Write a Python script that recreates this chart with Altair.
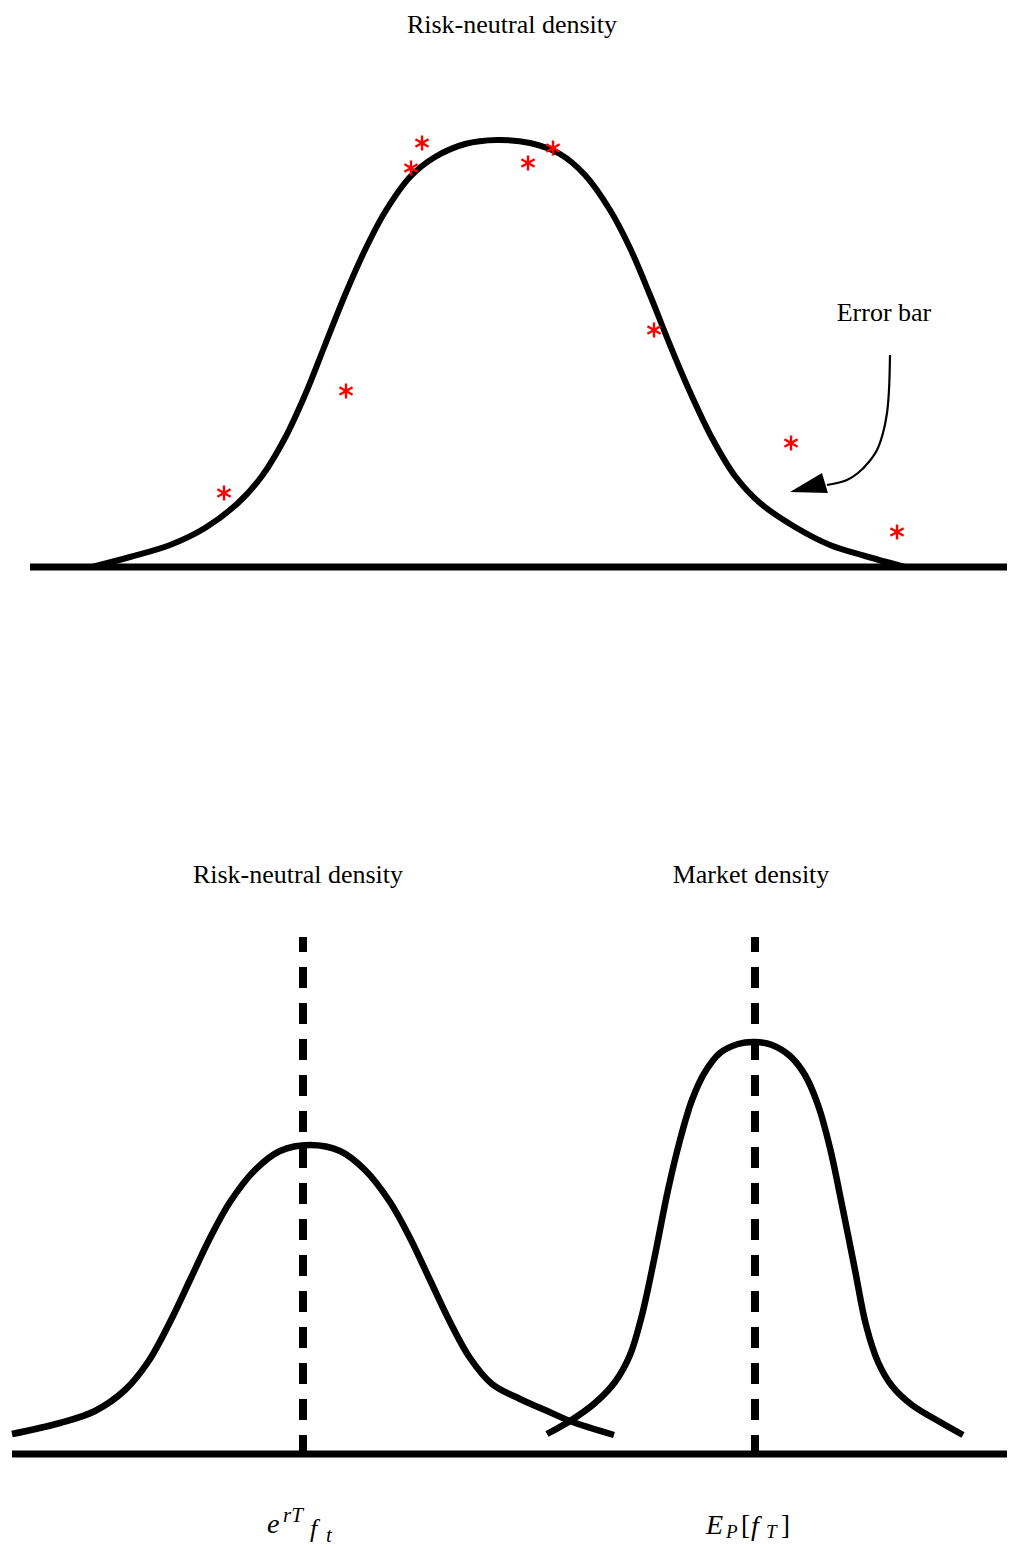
import altair as alt
import pandas as pd

# ---------------- data (schematic units: x to the right, y downward) -------------
top_curve_x = [92, 130, 170, 205, 238, 262, 285, 305, 325, 345, 365, 385, 410, 435, 465, 497,
               530, 560, 585, 610, 630, 650, 670, 690, 712, 735, 760, 795, 830, 865, 905]
top_curve_y = [567, 557, 545, 528, 503, 476, 438, 395, 345, 295, 250, 212, 177, 157, 144, 140,
               143, 154, 175, 210, 248, 295, 345, 392, 438, 476, 503, 527, 545, 556, 567]

obs_x = [224, 346, 411, 422, 528, 553, 654, 791, 897]
obs_y = [493, 391, 168, 143, 163, 148, 330, 443, 532]

arrow_x = [890, 889, 887, 883, 877, 868, 858, 847, 827]
arrow_y = [355, 390, 413, 433, 450, 463, 473, 480, 485]
arrow_tip_x = [813]
arrow_tip_y = [486]

rn_x = [12, 60, 95, 125, 148, 170, 190, 210, 230, 255, 280, 310, 340, 365, 390, 410, 430,
        450, 470, 492, 520, 545, 570, 614]
rn_y = [1434, 1423, 1411, 1390, 1362, 1322, 1280, 1238, 1202, 1170, 1151, 1145, 1151, 1170,
        1202, 1238, 1280, 1322, 1358, 1384, 1399, 1410, 1421, 1435]

mk_x = [547, 570, 595, 615, 630, 642, 655, 668, 680, 692, 705, 720, 738, 755, 772, 790, 805,
        818, 830, 842, 855, 866, 878, 892, 912, 940, 963]
mk_y = [1434, 1421, 1403, 1382, 1355, 1315, 1255, 1190, 1140, 1100, 1072, 1053, 1044, 1042,
        1045, 1056, 1075, 1105, 1148, 1205, 1270, 1325, 1362, 1386, 1405, 1422, 1435]

base_x1 = [30, 12]
base_x2 = [1008, 1015]
base_y = [567, 1454]

mean_x = [303, 755]
mean_y1 = [1456, 1456]
mean_y2 = [937, 937]

title_text = ["Risk-neutral density", "Error bar", "Risk-neutral density", "Market density"]
title_x = [512, 884, 298, 751]
title_y = [33, 321, 883, 883]

math_text = ["e", "rT", "f", "t", "E", "P", "f", "T"]
math_x = [267, 283, 310, 326, 706, 726, 751, 766]
math_y = [1533, 1522, 1537, 1542, 1534, 1538, 1535, 1538]
math_size = [28, 21, 26, 21, 28, 19, 28, 19]

bracket_text = ["[", "]"]
bracket_x = [741, 781]
bracket_y = [1534, 1534]

# ---------------- scales ----------------
W, H = 999, 1539
xs = alt.Scale(domain=[8, 8 + W], nice=False, zero=False)
ys = alt.Scale(domain=[8 + H, 8], nice=False, zero=False)
X = lambda f: alt.X(f, scale=xs, axis=None)
Y = lambda f: alt.Y(f, scale=ys, axis=None)

curves = pd.DataFrame(
    [{"x": a, "y": b, "id": "top", "i": i} for i, (a, b) in enumerate(zip(top_curve_x, top_curve_y))]
)
curves2 = pd.DataFrame(
    [{"x": a, "y": b, "id": "rn", "i": i} for i, (a, b) in enumerate(zip(rn_x, rn_y))]
    + [{"x": a, "y": b, "id": "mk", "i": i} for i, (a, b) in enumerate(zip(mk_x, mk_y))]
)
arrow = pd.DataFrame({"x": arrow_x, "y": arrow_y, "i": list(range(len(arrow_x)))})
tip = pd.DataFrame({"x": arrow_tip_x, "y": arrow_tip_y})
obs = pd.DataFrame({"x": obs_x, "y": obs_y})
bases = pd.DataFrame({"x": base_x1, "x2": base_x2, "y": base_y})
means = pd.DataFrame({"x": mean_x, "y": mean_y1, "y2": mean_y2})
titles = pd.DataFrame({"x": title_x, "y": title_y, "t": title_text})
maths = pd.DataFrame({"x": math_x, "y": math_y, "t": math_text, "s": math_size})
brackets = pd.DataFrame({"x": bracket_x, "y": bracket_y, "t": bracket_text})

FONT = "Liberation Serif"

base_layer = alt.Chart(bases).mark_rule(color="black", strokeWidth=7).encode(
    x=X("x:Q"), x2="x2:Q", y=Y("y:Q"))

curve_layer = alt.Chart(curves).mark_line(color="black", strokeWidth=6, interpolate="catmull-rom").encode(
    x=X("x:Q"), y=Y("y:Q"), detail="id:N", order="i:Q")

curve2_layer = alt.Chart(curves2).mark_line(color="black", strokeWidth=6.5, interpolate="catmull-rom").encode(
    x=X("x:Q"), y=Y("y:Q"), detail="id:N", order="i:Q")

mean_layer = alt.Chart(means).mark_rule(color="black", strokeWidth=8, strokeDash=[21, 15]).encode(
    x=X("x:Q"), y=Y("y:Q"), y2="y2:Q")

arrow_layer = alt.Chart(arrow).mark_line(color="black", strokeWidth=2.2, interpolate="catmull-rom").encode(
    x=X("x:Q"), y=Y("y:Q"), order="i:Q")

tip_layer = alt.Chart(tip).mark_point(
    shape="M-1,0.26L0.39,-0.57L0.65,0.3Z", filled=True, color="black", opacity=1, size=2116
).encode(x=X("x:Q"), y=Y("y:Q"))

star_layer = alt.Chart(obs).mark_point(
    shape="M0,-1L0,1M-0.87,-0.5L0.87,0.5M-0.87,0.5L0.87,-0.5",
    filled=False, color="red", strokeWidth=2.4, opacity=1, size=230
).encode(x=X("x:Q"), y=Y("y:Q"))

title_layer = alt.Chart(titles).mark_text(
    font=FONT, fontSize=26, baseline="alphabetic", align="center", color="black"
).encode(x=X("x:Q"), y=Y("y:Q"), text="t:N")

math_layer = alt.Chart(maths).mark_text(
    font=FONT, fontStyle="italic", baseline="alphabetic", align="left", color="black"
).encode(x=X("x:Q"), y=Y("y:Q"), text="t:N", size=alt.Size("s:Q", scale=None))

bracket_layer = alt.Chart(brackets).mark_text(
    font=FONT, fontSize=27, baseline="alphabetic", align="left", color="black"
).encode(x=X("x:Q"), y=Y("y:Q"), text="t:N")

chart = alt.layer(
    base_layer, curve_layer, curve2_layer, mean_layer, arrow_layer, tip_layer, star_layer,
    title_layer, math_layer, bracket_layer
).properties(
    width=W, height=H, padding=0, autosize=alt.AutoSizeParams(type="none"), background="white"
).configure_view(stroke=None)

chart.save("out.html", embed_options={"renderer": "svg", "actions": False})
